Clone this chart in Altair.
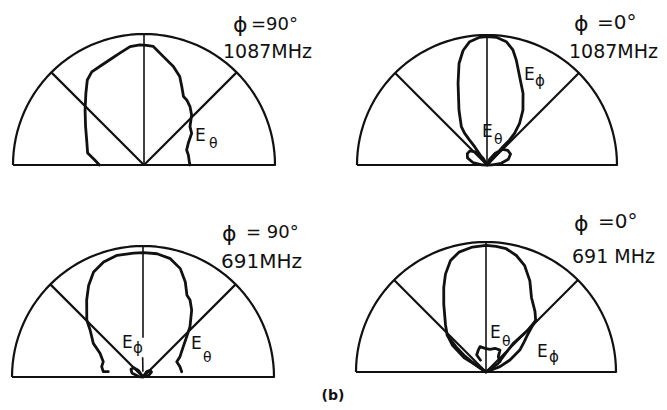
import altair as alt
import pandas as pd
import numpy as np

# ---------------- measured patterns ----------------
# angle from zenith in degrees (+ = right), field relative to outer circle (1.0)
P1_ETH_ANG = [-90, -84, -78, -67, -56.5, -47, -39, -33.7, -29.3, -24, -18, -12, -6.7, -2, 1.3, 4.5,
              10, 16.6, 22, 25.7, 30, 33.3, 38.3, 43.6, 50.2, 56.4, 63.9, 70.6, 77.3, 85.8, 90]
P1_ETH_R = [0.34, 0.38, 0.44, 0.475, 0.535, 0.615, 0.705, 0.78, 0.815, 0.825, 0.845, 0.875, 0.91, 0.918,
            0.913, 0.908, 0.842, 0.785, 0.728, 0.665, 0.603, 0.594, 0.567, 0.527, 0.457, 0.437, 0.376,
            0.345, 0.347, 0.347, 0.351]

P2_EPH_ANG = [0, -34, -35, -35.2, -33.8, -27, -19.5, -15.4, -11.8, -8, -3.3, 0, 4.2, 8.9, 12.7, 15.6,
              20.3, 26.7, 33.2, 38, 41, 42, 41, 42, 0]
P2_EPH_R = [0, 0.17, 0.234, 0.30, 0.355, 0.475, 0.667, 0.81, 0.90, 0.958, 0.984, 0.987, 0.985, 0.96,
            0.907, 0.838, 0.724, 0.617, 0.505, 0.407, 0.323, 0.26, 0.187, 0.07, 0]
P2_ETH_ANG = [0, -30, -40, -50, -60, -70, -80, -88, 0, 25, 35, 45, 55, 65, 75, 83, 88, 0]
P2_ETH_R = [0, 0.06, 0.13, 0.17, 0.175, 0.16, 0.11, 0.04, 0, 0.05, 0.11, 0.17, 0.195, 0.2, 0.17,
            0.11, 0.04, 0]

P3_ETH_ANG = [-81.3, -82.4, -76, -68.9, -61.1, -55.9, -48.4, -44.6, -36.2, -30.7, -25.2, -18.9, -12,
              -4.3, 0.3, 6.5, 13, 19, 24, 28.3, 31.4, 36, 43, 47.3, 53, 61.2, 65.6, 74.4, 82.2]
P3_ETH_R = [0.268, 0.306, 0.325, 0.325, 0.375, 0.458, 0.54, 0.611, 0.728, 0.813, 0.886, 0.928, 0.95,
            0.949, 0.949, 0.947, 0.927, 0.875, 0.794, 0.708, 0.689, 0.632, 0.526, 0.454, 0.385, 0.322,
            0.283, 0.293, 0.298]
P3_EPH_ANG = [0, -35, -45, -57, -70, -85, 0, 35, 48, 60, 75, 0]
P3_EPH_R = [0, 0.06, 0.10, 0.11, 0.09, 0.03, 0, 0.05, 0.075, 0.075, 0.045, 0]

P4_EPH_ANG = [0, -56, -57, -51.3, -46.3, -40.6, -32, -26.6, -22.5, -17.65, -12.7, -6.2, 0, 4.6, 9.3,
              14.6, 20, 25.7, 31.5, 38.9, 44, 46, 48.7, 52, 57, 63.4, 69, 0]
P4_EPH_R = [0, 0.12, 0.2, 0.333, 0.413, 0.479, 0.613, 0.726, 0.815, 0.9, 0.945, 0.967, 0.974, 0.969,
            0.961, 0.926, 0.87, 0.778, 0.67, 0.6, 0.55, 0.48, 0.42, 0.37, 0.31, 0.206, 0.115, 0]
P4_EPH2_ANG = [-46.3, -47.5, -50, -53, -55, 0, 54.7, 47, 43.6, 45, 44]
P4_EPH2_R = [0.413, 0.37, 0.30, 0.20, 0.10, 0, 0.116, 0.20, 0.30, 0.45, 0.55]
P4_ETH_ANG = [-25, -28.7, -19.3, -13.3, -2.4, 10, 20.8, 32.5, 38.8, 53.6]
P4_ETH_R = [0.10, 0.149, 0.179, 0.2, 0.182, 0.177, 0.195, 0.2, 0.151, 0.134]

# ---------------- layout (pixels) ----------------
PANELS = {
    "p1": dict(cx=144, cy=165, R=131),
    "p2": dict(cx=487, cy=165, R=130),
    "p3": dict(cx=143, cy=377, R=131),
    "p4": dict(cx=486, cy=372, R=130),
}

CURVES = [
    ("p1", "Eth", P1_ETH_ANG, P1_ETH_R),
    ("p2", "Eph", P2_EPH_ANG, P2_EPH_R),
    ("p2", "Eth", P2_ETH_ANG, P2_ETH_R),
    ("p3", "Eth", P3_ETH_ANG, P3_ETH_R),
    ("p3", "Eph", P3_EPH_ANG, P3_EPH_R),
    ("p4", "Eph", P4_EPH_ANG, P4_EPH_R),
    ("p4", "Eph2", P4_EPH2_ANG, P4_EPH2_R),
    ("p4", "Eth", P4_ETH_ANG, P4_ETH_R),
]

rows = []
for pid, name, angs, rs in CURVES:
    for i, (a, r) in enumerate(zip(angs, rs)):
        rows.append(dict(curve=f"{pid}-{name}", order=i, ang=a, r=r, **PANELS[pid]))
curves_df = pd.DataFrame(rows)

# frame: semicircle outline
frame_rows = []
for pid, p in PANELS.items():
    angs = list(np.arange(-90, 91, 3)) + [90]
    for i, a in enumerate(angs):
        frame_rows.append(dict(curve=pid, order=i, ang=float(a), r=1.0, **p))
    frame_rows.append(dict(curve=pid, order=len(angs), ang=-90.0, r=1.0, **p))
frame_df = pd.DataFrame(frame_rows)

# spokes at -45, 0, +45 degrees
spoke_rows = []
for pid, p in PANELS.items():
    for a in (-45, 45):
        spoke_rows.append(dict(ang=a, r0=0.0, r1=1.0, w=2.2, **p))
    if pid == "p3":
        spoke_rows.append(dict(ang=0, r0=0.30, r1=1.0, w=1.6, **p))
        spoke_rows.append(dict(ang=-1, r0=0.04, r1=0.15, w=1.6, **p))
    else:
        spoke_rows.append(dict(ang=0, r0=0.0, r1=1.0, w=1.6, **p))
spoke_df = pd.DataFrame(spoke_rows)

# labels: (text, x, y baseline, size)
LABELS = [
    ("ϕ", 233, 32, 22), ("=90°", 251, 30, 18), ("1087MHz", 223, 58, 19),
    ("ϕ", 574, 31, 22), ("=0°", 597, 29, 20), ("1087MHz", 569, 58, 19),
    ("ϕ", 222, 241, 22), ("= 90°", 246, 238, 18), ("691MHz", 221, 268, 20),
    ("ϕ", 574, 231, 22), ("=0°", 598, 228, 20), ("691 MHz", 572, 263, 19),
    ("E", 195, 141, 17), ("θ", 209, 148, 14),
    ("E", 524, 80, 17), ("ϕ", 535, 86, 15),
    ("E", 482, 137, 17), ("θ", 494, 144, 14),
    ("E", 122, 348, 17), ("ϕ", 133, 353, 15),
    ("E", 191, 349, 17), ("θ", 203, 362, 14),
    ("E", 490, 338, 17), ("θ", 502, 346, 14),
    ("E", 537, 357, 17), ("ϕ", 549, 362, 15),
]
labels_df = pd.DataFrame(LABELS, columns=["text", "x", "y", "size"])
caption_df = pd.DataFrame([{"text": "(b)", "x": 333, "y": 400}])

X = alt.Scale(domain=[8, 659])
Y = alt.Scale(domain=[8, 402], reverse=True)
INK = "#111111"
FONT = "DejaVu Sans"

px = "datum.cx + datum.R * datum.r * sin(datum.ang * PI / 180)"
py = "datum.cy - datum.R * datum.r * cos(datum.ang * PI / 180)"

frame = alt.Chart(frame_df).transform_calculate(px=px, py=py).mark_line(
    color=INK, strokeWidth=2.2, strokeJoin="round"
).encode(
    x=alt.X("px:Q", scale=X, axis=None),
    y=alt.Y("py:Q", scale=Y, axis=None),
    detail="curve:N", order="order:Q",
)

spokes = alt.Chart(spoke_df).transform_calculate(
    x0="datum.cx + datum.R * datum.r0 * sin(datum.ang * PI / 180)",
    y0="datum.cy - datum.R * datum.r0 * cos(datum.ang * PI / 180)",
    x1="datum.cx + datum.R * datum.r1 * sin(datum.ang * PI / 180)",
    y1="datum.cy - datum.R * datum.r1 * cos(datum.ang * PI / 180)",
).mark_rule(color=INK).encode(
    x=alt.X("x0:Q", scale=X, axis=None), y=alt.Y("y0:Q", scale=Y, axis=None),
    x2="x1:Q", y2="y1:Q",
    strokeWidth=alt.StrokeWidth("w:Q", scale=None),
)

curves = alt.Chart(curves_df).transform_calculate(px=px, py=py).mark_line(
    color=INK, strokeWidth=2.8, strokeJoin="round", strokeCap="round", interpolate="linear"
).encode(
    x=alt.X("px:Q", scale=X, axis=None),
    y=alt.Y("py:Q", scale=Y, axis=None),
    detail="curve:N", order="order:Q",
)

labels = alt.Chart(labels_df).mark_text(
    align="left", baseline="alphabetic", font=FONT, color=INK
).encode(
    x=alt.X("x:Q", scale=X, axis=None), y=alt.Y("y:Q", scale=Y, axis=None),
    text="text:N", size=alt.Size("size:Q", scale=None),
)

caption = alt.Chart(caption_df).mark_text(
    align="center", baseline="alphabetic", font=FONT, fontSize=14, fontWeight="bold", color=INK
).encode(
    x=alt.X("x:Q", scale=X, axis=None), y=alt.Y("y:Q", scale=Y, axis=None), text="text:N",
)

chart = alt.layer(frame, spokes, curves, labels, caption).properties(
    width=651, height=394, padding=0, autosize=alt.AutoSizeParams(type="none"),
    background="white",
).configure_view(stroke=None)

chart.save("out.html", embed_options={"renderer": "svg", "actions": False})
